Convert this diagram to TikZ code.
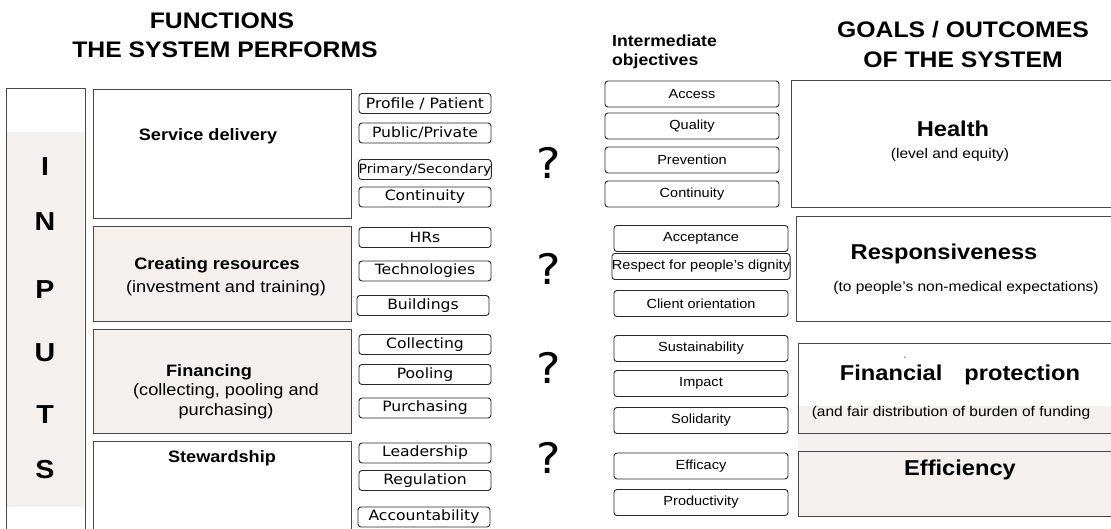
\documentclass[tikz,border=0pt]{standalone}
\usepackage{fontspec}
\setmainfont{Liberation Sans}[FakeStretch=1.1]
\newfontfamily\dvfont{DejaVu Sans}[FakeStretch=1.1]
\definecolor{boxfill}{RGB}{243,240,237}
\definecolor{edgegray}{RGB}{72,72,72}
\newcommand\fsz[1]{\fontsize{#1}{#1}\selectfont}
\begin{document}
\begin{tikzpicture}[x=1pt,y=-1pt,
  bigbox/.style={draw=edgegray,line width=1.3pt,inner sep=0pt,anchor=north west},
  smallA/.style={draw=black!85,line width=0.9pt,rounded corners=3pt,inner sep=0pt,
    minimum width=132pt,minimum height=20pt,font=\dvfont\fsz{14.2}},
  smallB/.style={draw=black!85,line width=0.9pt,rounded corners=3pt,inner sep=0pt,
    minimum width=174pt,minimum height=26pt,font=\fsz{13.2}},
  title/.style={font=\bfseries\fsz{22.5},inner sep=0pt},
  fn/.style={font=\bfseries\fsz{16.5},inner sep=0pt},
  fnsub/.style={font=\fsz{16.5},inner sep=0pt,align=center},
  goal/.style={font=\bfseries\fsz{21.5},inner sep=0pt},
  goalsub/.style={font=\fsz{14.1},inner sep=0pt},
  letter/.style={font=\bfseries\fsz{26},inner sep=0pt},
  qmark/.style={font=\dvfont\fsz{42},inner sep=0pt}]
\useasboundingbox (0,0) rectangle (1111,529);
\clip (0,0) rectangle (1111,529);
\fill[white] (0,0) rectangle (1111,529);

% titles
\node[title] (t1) at (222,21) {FUNCTIONS};
\node[title] (t2) at (225,50) {THE SYSTEM PERFORMS};
\node[font=\bfseries\fsz{16},inner sep=0pt,anchor=west] (t3) at (612,41) {Intermediate};
\node[font=\bfseries\fsz{16},inner sep=0pt,anchor=west] (t4) at (612,61) {objectives};
\node[title] (t5) at (963,30) {GOALS / OUTCOMES};
\node[title] (t6) at (963,60) {OF THE SYSTEM};

% INPUTS column
\fill[boxfill] (7,132) rectangle (84,507);
\node[bigbox,minimum width=79pt,minimum height=470pt] (inputs) at (6,88) {};
\node[letter] (lI) at (45,167) {I};
\node[letter] (lN) at (45,222) {N};
\node[letter] (lP) at (45,290) {P};
\node[letter] (lU) at (45,353) {U};
\node[letter] (lT) at (45,415) {T};
\node[letter] (lS) at (45,470) {S};

% function boxes
\node[bigbox,minimum width=258pt,minimum height=129pt] (sd) at (93,89) {};
\node[bigbox,fill=boxfill,minimum width=258pt,minimum height=95pt] (cr) at (93,226) {};
\node[bigbox,fill=boxfill,minimum width=258pt,minimum height=104pt] (fi) at (93,329) {};
\node[bigbox,minimum width=258pt,minimum height=110pt] (st) at (93,441) {};

\node[fn] (sdt) at (208,136) {Service delivery};
\node[fn] (crt) at (217,265) {Creating resources};
\node[fnsub] (crs) at (226,288) {(investment and training)};
\node[fn] (fit) at (209,372) {Financing};
\node[fnsub] (fis1) at (226,391) {(collecting, pooling and};
\node[fnsub] (fis2) at (226,411) {purchasing)};
\node[fn] (stt) at (222,458) {Stewardship};

% column 1 small boxes
\node[smallA] (a1) at (425,103.5) {Profile / Patient};
\node[smallA] (a2) at (425,133) {Public/Private};
\node[smallA,font=\dvfont\fsz{12.7}] (a3) at (425,169.5) {Primary/Secondary};
\node[smallA] (a4) at (425,197) {Continuity};
\node[smallA] (b1) at (425,237.5) {HRs};
\node[smallA] (b2) at (425,271) {Technologies};
\node[smallA] (b3) at (423,305.5) {Buildings};
\node[smallA] (c1) at (425,344.5) {Collecting};
\node[smallA] (c2) at (425,374.5) {Pooling};
\node[smallA] (c3) at (425,408) {Purchasing};
\node[smallA] (d1) at (425,453) {Leadership};
\node[smallA] (d2) at (425,480.5) {Regulation};
\node[smallA] (d3) at (424,517) {Accountability};

% question marks
\node[qmark] (q1) at (549,163) {?};
\node[qmark] (q2) at (549,269) {?};
\node[qmark] (q3) at (549,368) {?};
\node[qmark] (q4) at (549,458) {?};

% column 2 small boxes
\node[smallB] (e1) at (692,94) {Access};
\node[smallB] (e2) at (692,126) {Quality};
\node[smallB] (e3) at (692,160) {Prevention};
\node[smallB] (e4) at (692,194) {Continuity};
\node[smallB] (f1) at (701,238.5) {Acceptance};
\node[smallB] (f2) at (701,266.5) {Respect for people's dignity};
\node[smallB] (f3) at (701,303.5) {Client orientation};
\node[smallB] (g1) at (701,348.5) {Sustainability};
\node[smallB] (g2) at (701,383.5) {Impact};
\node[smallB] (g3) at (701,420.5) {Solidarity};
\node[smallB] (h1) at (701,466) {Efficacy};
\node[smallB] (h2) at (701,502.5) {Productivity};

% goal boxes
\node[bigbox,minimum width=340pt,minimum height=127pt] (health) at (791,80) {};
\node[bigbox,minimum width=340pt,minimum height=105pt] (resp) at (796,216) {};
\fill[boxfill] (798,406) rectangle (1120,516);
\node[bigbox,minimum width=340pt,minimum height=90pt] (finp) at (798,343) {};
\node[bigbox,fill=boxfill,minimum width=340pt,minimum height=65pt] (eff) at (798,451) {};

\node[goal] (ht) at (953,129) {Health};
\node[goalsub] (hs) at (950,155) {(level and equity)};
\node[goal] (rt) at (944,254) {Responsiveness};
\node[goalsub] (rs) at (966,288) {(to people’s non-medical expectations)};
\node[goal] (ft) at (960,375) {Financial\hspace{22pt}protection};
\node[font=\fsz{8},inner sep=0pt] (tick) at (905,360) {'};
\node[goalsub] (fs) at (951,413) {(and fair distribution of burden of funding};
\node[goal] (et) at (960,470) {Efficiency};
\end{tikzpicture}
\end{document}
